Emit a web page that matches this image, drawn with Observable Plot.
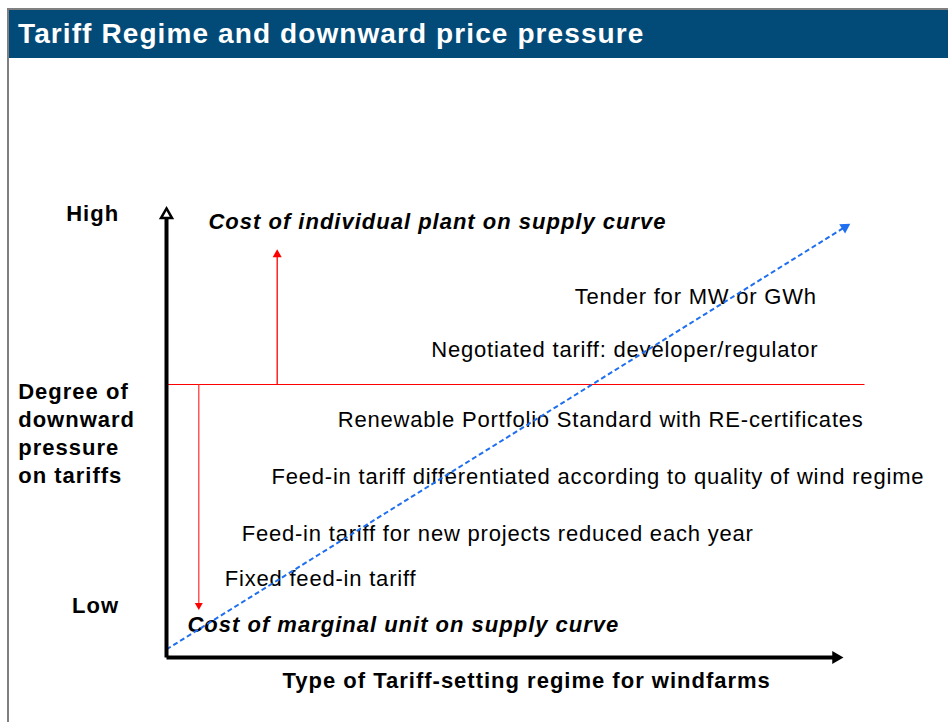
<!DOCTYPE html>
<html><head><meta charset="utf-8">
<script src="https://cdn.jsdelivr.net/npm/d3@7"></script>
<script src="https://cdn.jsdelivr.net/npm/@observablehq/plot@0.6"></script>
<style>
body{margin:0;background:#fff;}
#page{position:relative;width:948px;height:722px;overflow:hidden;font-family:"Liberation Sans",Arial,sans-serif;}
#frame{position:absolute;left:7px;top:8px;right:0;bottom:0;border-left:2px solid #808080;border-top:2px solid #808080;}
#title{position:absolute;left:9px;top:10px;right:0;height:48px;background:#024b79;color:#fff;font-weight:bold;font-size:28px;line-height:48px;padding-left:9px;white-space:nowrap;letter-spacing:1.1px;}
#chart{position:absolute;left:0;top:58px;}
#chart svg text{letter-spacing:1px;}
</style></head>
<body><div id="page"><div id="frame"></div><div id="title">Tariff Regime and downward price pressure</div><div id="chart"></div></div>
<script>
// ---- data (diagram coordinates: x = type of regime 0..100, y = degree of pressure 0..100) ----
const regimes = [
  "Fixed feed-in tariff",
  "Feed-in tariff for new projects reduced each year",
  "Feed-in tariff differentiated according to quality of wind regime",
  "Renewable Portfolio Standard with RE-certificates",
  "Negotiated tariff: developer/regulator",
  "Tender for MW or GWh"
];
const regimeType = [8.6, 11.1, 15.5, 25.3, 39.1, 60.3];
const regimePressure = [17.4, 27.6, 40.1, 52.8, 68.4, 80.4];

const yTickLabels = ["Low", "High"];
const yTickValues = [11.4, 98.7];
const yAxisTitle = "Degree of\ndownward\npressure\non tariffs";
const yAxisTitleAt = [-21.9, 50.2];
const xAxisTitle = "Type of Tariff-setting regime for windfarms";
const xAxisTitleAt = [53.2, -5.3];

const costLabels = ["Cost of marginal unit on supply curve", "Cost of individual plant on supply curve"];
const costX = [3.1, 6.2];
const costY = [7.3, 97.1];

const trendX = [0, 101.0];
const trendY = [1.8, 96.6];

const thresholdY = 60.8;
const thresholdX = [0.15, 103.1];
const pushUp = {x: 16.35, from: 60.8, to: 90.9};
const pushDown = {x: 4.77, from: 60.8, to: 10.6};

const axisTipX = 100, axisTipY = 100;

// ---- layout ----
const W = 948, H = 664;
const M = {left: 166, right: 105, top: 150, bottom: 65};
const xs = Plot.scale({x: {domain: [0, 100], range: [M.left, W - M.right]}});
const ys = Plot.scale({y: {domain: [0, 100], range: [H - M.bottom, M.top]}});

function rFromWidth(w) { const a = w / (2 * Math.sqrt(3)); return Math.sqrt(3 * Math.sqrt(3) * a * a / Math.PI); }
function arrow(x1, y1, x2, y2, w) {
  const r = rFromWidth(w);
  const px1 = xs.apply(x1), py1 = ys.apply(y1), px2 = xs.apply(x2), py2 = ys.apply(y2);
  const dx = px2 - px1, dy = py2 - py1, L = Math.hypot(dx, dy), ux = dx / L, uy = dy / L;
  const a = w / (2 * Math.sqrt(3));
  const cx = px2 - ux * 2 * a, cy = py2 - uy * 2 * a;
  return {
    line: {x1, y1, x2: xs.invert(cx), y2: ys.invert(cy)},
    head: {x: xs.invert(cx), y: ys.invert(cy), rotate: Math.atan2(ux, -uy) * 180 / Math.PI},
    r
  };
}

const yAxisArrow = arrow(0, 0, 0, axisTipY, 11);
const xAxisArrow = arrow(0, 0, axisTipX, 0, 13);
const upArrow = arrow(pushUp.x, pushUp.from, pushUp.x, pushUp.to, 9);
const downArrow = arrow(pushDown.x, pushDown.from, pushDown.x, pushDown.to, 8);
const trendArrow = arrow(trendX[0], trendY[0], trendX[1], trendY[1], 11);

const labelData = regimes.map((t, i) => ({t, x: regimeType[i], y: regimePressure[i]}));
const tickData = yTickLabels.map((t, i) => ({t, y: yTickValues[i]}));
const costData = costLabels.map((t, i) => ({t, x: costX[i], y: costY[i]}));

const FONT = "Liberation Sans, Arial, sans-serif";
const linkOf = (a, opts) => Plot.link([a.line], {x1: "x1", y1: "y1", x2: "x2", y2: "y2", ...opts});
const headOf = (a, opts) => Plot.dot([a.head], {x: "x", y: "y", rotate: "rotate", symbol: "triangle", r: a.r, ...opts});

const chart = Plot.plot({
  width: W, height: H,
  marginLeft: M.left, marginRight: M.right, marginTop: M.top, marginBottom: M.bottom,
  x: {domain: [0, 100], axis: null},
  y: {domain: [0, 100], axis: null},
  style: {fontFamily: FONT, background: "transparent", overflow: "visible", color: "#000"},
  marks: [
    // threshold line
    Plot.link([{}], {x1: thresholdX[0], x2: thresholdX[1], y1: thresholdY, y2: thresholdY, stroke: "#ff0000", strokeWidth: 1.2}),
    linkOf(upArrow, {stroke: "#ff0000", strokeWidth: 1.3}),
    headOf(upArrow, {fill: "#ff0000", stroke: "none"}),
    linkOf(downArrow, {stroke: "#ff3b3b", strokeWidth: 1.3}),
    headOf(downArrow, {fill: "#ff0000", stroke: "none"}),
    // regime labels
    Plot.text(labelData, {x: "x", y: "y", text: "t", textAnchor: "start", lineAnchor: "middle", fontSize: 22, fill: "#000"}),
    // cost labels
    Plot.text(costData, {x: "x", y: "y", text: "t", textAnchor: "start", lineAnchor: "middle", fontSize: 22, fontWeight: "bold", fontStyle: "italic", fill: "#000"}),
    // trend line
    linkOf(trendArrow, {stroke: "#1f6ff0", strokeWidth: 2, strokeDasharray: "5,3"}),
    headOf(trendArrow, {fill: "#1f6ff0", stroke: "none"}),
    // axes
    linkOf(yAxisArrow, {stroke: "#000", strokeWidth: 4}),
    headOf(yAxisArrow, {fill: "#fff", stroke: "#000", strokeWidth: 2.5}),
    linkOf(xAxisArrow, {stroke: "#000", strokeWidth: 4}),
    headOf(xAxisArrow, {fill: "#000", stroke: "none"}),
    // y tick labels
    Plot.text(tickData, {x: -7.0, y: "y", text: "t", textAnchor: "end", lineAnchor: "middle", fontSize: 22, fontWeight: "bold", fill: "#000"}),
    // axis titles
    Plot.text([yAxisTitle], {x: yAxisTitleAt[0], y: yAxisTitleAt[1], text: d => d, textAnchor: "start", lineAnchor: "middle", lineHeight: 1.27, fontSize: 22, fontWeight: "bold", fill: "#000"}),
    Plot.text([xAxisTitle], {x: xAxisTitleAt[0], y: xAxisTitleAt[1], text: d => d, textAnchor: "middle", lineAnchor: "middle", fontSize: 22, fontWeight: "bold", fill: "#000"})
  ]
});
// regime labels slightly tighter tracking
chart.querySelectorAll("text").forEach(el => { if (regimes.includes(el.textContent)) el.style.letterSpacing = "0.8px"; });
document.getElementById("chart").appendChild(chart);
</script></body></html>
